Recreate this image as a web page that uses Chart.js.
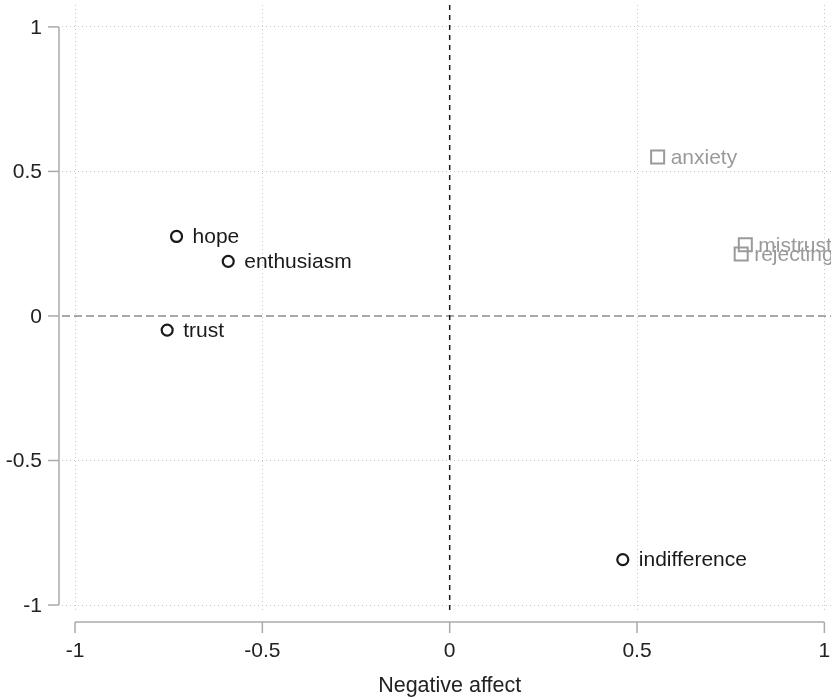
<!DOCTYPE html>
<html>
<head>
<meta charset="utf-8">
<script src="https://cdn.jsdelivr.net/npm/chart.js@4.4.1/dist/chart.umd.min.js"></script>
<style>
  html,body{margin:0;padding:0;background:#fff;overflow:hidden;}
  #wrap{width:831px;height:697px;}
</style>
</head>
<body>
<div id="wrap"><canvas id="myChart" width="831" height="697"></canvas></div>
<script>
// circles (dark) and squares (grey)
const posLabels=["hope","enthusiasm","trust","indifference"];
const posX=[-0.729,-0.591,-0.754,0.462];
const posY=[0.275,0.189,-0.049,-0.843];
const negLabels=["anxiety","mistrust","rejecting"];
const negX=[0.555,0.789,0.778];
const negY=[0.550,0.246,0.214];
const tickVals=[-1,-0.5,0,0.5,1];
const xTitle="Negative affect";

const FONT='"Liberation Sans", Arial, Helvetica, sans-serif';
const TXT='#222';
const AXIS='#aaaaaa';

function toPoints(xs,ys){
    return xs.map((x,i)=>({x:x,y:ys[i]}));
}
function fmt(v){
    return String(v);
}

// zero reference lines, axes drawn offset from the plot region, point labels
const decor={
    id:"decor",
    beforeDatasetsDraw(chart){
        const ctx=chart.ctx, a=chart.chartArea;
        const xs=chart.scales.x, ys=chart.scales.y;
        ctx.save();
        ctx.lineWidth=1.5;
        ctx.strokeStyle='#8c8c8c';
        ctx.setLineDash([8,4]);
        let py=ys.getPixelForValue(0);
        ctx.beginPath();ctx.moveTo(a.left,py);ctx.lineTo(a.right,py);ctx.stroke();
        ctx.strokeStyle='#1a1a1a';
        ctx.setLineDash([5,5]);
        let px=xs.getPixelForValue(0);
        ctx.beginPath();ctx.moveTo(px,a.top);ctx.lineTo(px,a.bottom);ctx.stroke();
        ctx.restore();
    },
    afterDatasetsDraw(chart){
        const ctx=chart.ctx;
        ctx.save();
        ctx.font='21px '+FONT;
        ctx.textBaseline='middle';
        ctx.textAlign='left';
        chart.data.datasets.forEach((ds,d)=>{
            const meta=chart.getDatasetMeta(d);
            ctx.fillStyle=ds.borderColor;
            meta.data.forEach((el,i)=>{
                ctx.fillText(ds.names[i],el.x+ds.labelGap,el.y+1);
            });
        });
        ctx.restore();
    },
    afterDraw(chart){
        const ctx=chart.ctx;
        const xs=chart.scales.x, ys=chart.scales.y;
        const axX=59, axY=622;
        ctx.save();
        ctx.strokeStyle=AXIS;
        ctx.lineWidth=1.5;
        ctx.setLineDash([]);
        // y axis
        ctx.beginPath();
        ctx.moveTo(axX,ys.getPixelForValue(1));
        ctx.lineTo(axX,ys.getPixelForValue(-1));
        ctx.stroke();
        // x axis
        ctx.beginPath();
        ctx.moveTo(xs.getPixelForValue(-1),axY);
        ctx.lineTo(xs.getPixelForValue(1),axY);
        ctx.stroke();
        ctx.fillStyle=TXT;
        ctx.font='21px '+FONT;
        tickVals.forEach(v=>{
            let py=ys.getPixelForValue(v);
            ctx.beginPath();ctx.moveTo(axX-11,py);ctx.lineTo(axX,py);ctx.stroke();
            ctx.textAlign='right';ctx.textBaseline='middle';
            ctx.fillText(fmt(v),axX-17,py+1);
            let px=xs.getPixelForValue(v);
            ctx.beginPath();ctx.moveTo(px,axY);ctx.lineTo(px,axY+11);ctx.stroke();
            ctx.textAlign='center';ctx.textBaseline='middle';
            ctx.fillText(fmt(v),px,axY+29);
        });
        ctx.font='21.5px '+FONT;
        ctx.textAlign='center';ctx.textBaseline='middle';
        ctx.fillText(xTitle,xs.getPixelForValue(0),686);
        ctx.restore();
    }
};

const gridOpts={
    color:(c)=>c.tick && c.tick.value===0 ? 'rgba(0,0,0,0)' : '#c8c8c8',
    lineWidth:1,
    drawTicks:false
};

let scatter=new Chart("myChart",{
    type:"scatter",
    data:{
        datasets:[{
            data:toPoints(posX,posY),
            names:posLabels,
            labelGap:16,
            pointStyle:"circle",
            pointRadius:5.5,
            pointHoverRadius:5.5,
            borderWidth:2.2,
            borderColor:"#1a1a1a",
            backgroundColor:"rgba(255,255,255,0)"
        },{
            data:toPoints(negX,negY),
            names:negLabels,
            labelGap:13,
            pointStyle:"rect",
            pointRadius:9.2,
            pointHoverRadius:9.2,
            borderWidth:2,
            borderColor:"#9a9a9a",
            backgroundColor:"rgba(255,255,255,0)"
        }]
    },
    options:{
        responsive:false,
        animation:false,
        events:[],
        layout:{autoPadding:false,padding:{left:62,right:0,top:5,bottom:85}},
        plugins:{legend:{display:false},tooltip:{enabled:false}},
        scales:{
            x:{
                type:"linear",
                min:-1.0347,
                max:1.0177,
                afterBuildTicks:(s)=>{s.ticks=tickVals.map(v=>({value:v}));},
                ticks:{display:false},
                grid:gridOpts,
                border:{display:false,dash:[1,3]}
            },
            y:{
                type:"linear",
                min:-1.0241,
                max:1.0757,
                afterBuildTicks:(s)=>{s.ticks=tickVals.map(v=>({value:v}));},
                ticks:{display:false},
                grid:gridOpts,
                border:{display:false,dash:[1,3]}
            }
        }
    },
    plugins:[decor]
});
</script>
</body>
</html>
